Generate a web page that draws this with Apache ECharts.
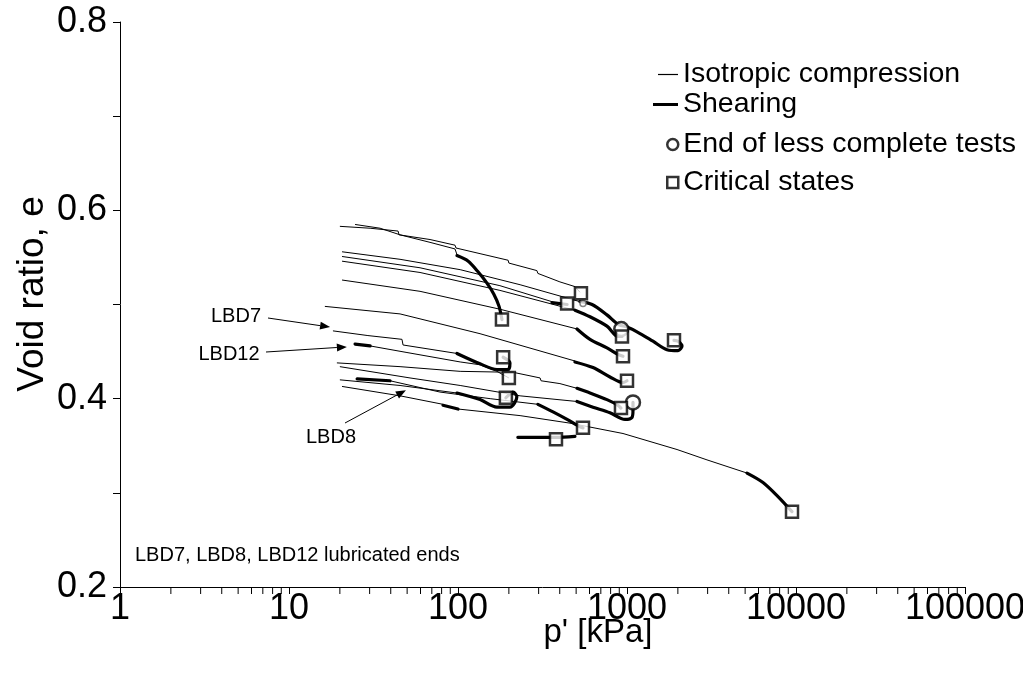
<!DOCTYPE html>
<html><head><meta charset="utf-8">
<script src="https://cdn.jsdelivr.net/npm/echarts@6/dist/echarts.min.js"></script>
<style>html,body{margin:0;padding:0;background:#fff}#c{width:1023px;height:675px}</style>
</head><body><div id="c"></div>
<script>
const FONT = "'Liberation Sans', Arial, Helvetica, sans-serif";

// ---- axis ticks ----
const xMajorTicks = [1, 10, 100, 1000, 10000, 100000];
const xMinorTicks = [2,3,4,5,6,7,8,9, 20,30,40,50,60,70,80,90, 200,300,400,500,600,700,800,900,
  2000,3000,4000,5000,6000,7000,8000,9000, 20000,30000,40000,50000,60000,70000,80000,90000];
const yTickLabels = ['0.2', '0.4', '0.6', '0.8'];

// ---- isotropic compression paths [p' (kPa), e] ----
const compA = [[20.0,0.583],[30.2,0.581],[44.2,0.578],[44.8,0.574],[68.3,0.569],[96.0,0.563],[97.3,0.560],[135,0.554],[198,0.547],[200,0.544],[293,0.536],[297,0.533],[401,0.524],[492,0.519],[527,0.513]];
const compA2 = [[24.6,0.585],[34.6,0.581],[45.4,0.574],[68.3,0.566],[96.0,0.559],[98.6,0.553]];
const compB = [[20.6,0.556],[45.4,0.548],[103,0.537],[233,0.521],[527,0.503]];
const compC = [[20.6,0.551],[59.6,0.539],[177,0.520],[360,0.503]];
const compD = [[20.6,0.546],[59.6,0.534],[177,0.515],[492,0.494]];
const compE = [[20.6,0.526],[59.6,0.514],[177,0.495],[506,0.474]];
const compF = [[16.3,0.498],[45.4,0.490],[135,0.469],[492,0.440]];
const compLBD7 = [[18.2,0.472],[29.3,0.467],[46.6,0.463],[47.3,0.457],[98.6,0.448]];
const compLBD12 = [[30.2,0.456],[49.9,0.449],[103,0.439],[135,0.436],[170,0.429],[200,0.422]];
const compJ = [[19.2,0.438],[45.4,0.434],[103,0.429],[212,0.428],[306,0.422],[310,0.419],[401,0.416],[506,0.411]];
const compK = [[20.0,0.434],[52.0,0.422],[103,0.414],[233,0.403],[506,0.397]];
const compL = [[20.0,0.420],[45.4,0.414],[98.6,0.406]];
const compLBD8 = [[39.6,0.419],[78.3,0.407],[155,0.400],[297,0.394]];
const compM1 = [[20.6,0.413],[45.4,0.403],[81.5,0.394]];
const compM2 = [[100,0.389],[233,0.382],[460,0.374],[947,0.363],[1977,0.346],[2974,0.335],[5130,0.321]];

// ---- shearing paths [p' (kPa), e] ----
const shearA2 = [[98.6,0.552],[115,0.546],[131,0.535],[148,0.523],[163,0.511],[175,0.498],[182,0.484]];
const shearB = [[527,0.503],[621,0.500],[761,0.489],[885,0.479],[1000,0.476],[1146,0.471],[1425,0.461],[1725,0.452],[2004,0.451],[2116,0.456],[2004,0.461],[1897,0.462]];
const shearC = [[360,0.502],[442,0.500]];
const shearD = [[492,0.494],[604,0.487],[761,0.477],[885,0.466],[934,0.466]];
const shearE = [[506,0.474],[604,0.463],[761,0.454],[885,0.447],[947,0.445]];
const shearF = [[492,0.439],[629,0.433],[793,0.423],[947,0.417],[1000,0.419]];
const shearLBD7 = [[98.6,0.448],[135,0.437],[170,0.431],[198,0.431],[203,0.438],[185,0.444]];
const startLBD12 = [[24.6,0.458],[30.2,0.456]];
const shearJ = [[506,0.411],[604,0.406],[761,0.399],[885,0.393],[921,0.390]];
const shearK = [[506,0.397],[629,0.391],[793,0.385],[973,0.378],[1070,0.380],[1085,0.388],[1085,0.396]];
const shearL = [[98.6,0.406],[135,0.399],[170,0.391],[203,0.391],[223,0.402],[212,0.407],[192,0.401]];
const startLBD8 = [[25.3,0.421],[39.6,0.419]];
const shearLBD8 = [[297,0.394],[365,0.386],[442,0.378],[527,0.370],[549,0.369]];
const shearM1 = [[81.5,0.393],[100,0.389]];
const shearM2 = [[5130,0.321],[6377,0.311],[7826,0.296],[9470,0.280]];
const shearU = [[226,0.359],[380,0.359],[492,0.360]];

// ---- markers ----
const criticalStates = [[534,0.512],[442,0.501],[182,0.484],[934,0.466],[947,0.445],[1000,0.419],[921,0.390],[549,0.369],[380,0.357],[1897,0.462],[185,0.444],[200,0.422],[192,0.401],[9470,0.280]];
const endLessComplete = [[925,0.474],[1085,0.396]];
const endLessCompleteSmall = [[549,0.501]];

const thinCurves = [compA, compA2, compB, compC, compD, compE, compF, compLBD7, compLBD12, compJ, compK, compL, compLBD8, compM1, compM2];
const thickCurves = [shearA2, shearB, shearC, shearD, shearE, shearF, shearLBD7, startLBD12, shearJ, shearK, shearL, startLBD8, shearLBD8, shearM1, shearM2, shearU];

const series = [];
thinCurves.forEach(d => series.push({
  type: 'line', name: 'Isotropic compression', data: d, symbol: 'none', smooth: false,
  lineStyle: { color: '#000', width: 1 }, itemStyle: { color: '#000' }, z: 2, silent: true
}));
thickCurves.forEach(d => series.push({
  type: 'line', name: 'Shearing', data: d, symbol: 'none', smooth: 0.3,
  lineStyle: { color: '#000', width: 3.2, cap: 'round', join: 'round' }, itemStyle: { color: '#000' }, z: 3, silent: true
}));
series.push({
  type: 'scatter', name: 'End of less complete tests', data: endLessComplete, symbol: 'circle', symbolSize: 14,
  itemStyle: { color: '#fff', borderColor: '#000', borderWidth: 2.5 }, z: 4, silent: true
});
series.push({
  type: 'scatter', name: 'End of less complete tests', data: endLessCompleteSmall, symbol: 'circle', symbolSize: 6,
  itemStyle: { color: '#fff', borderColor: '#666', borderWidth: 1.5 }, z: 4, silent: true
});
series.push({
  type: 'scatter', name: 'Critical states', data: criticalStates, symbol: 'rect', symbolSize: 12,
  itemStyle: { color: '#fff', borderColor: '#000', borderWidth: 2.5 }, z: 5, silent: true
});
series.push({
  type: 'custom', name: 'minorTicks', data: xMinorTicks.map(v => [v, 0.2]), clip: false, silent: true, z: 1,
  renderItem: (params, api) => {
    const pt = api.coord([api.value(0), api.value(1)]);
    return { type: 'line', shape: { x1: pt[0], y1: pt[1], x2: pt[0], y2: pt[1] + 7 }, style: { stroke: '#000', lineWidth: 1 } };
  }
});

const legendText = { fontSize: 28.5, color: '#000', fontFamily: FONT };
const chart = echarts.init(document.getElementById('c'), null, { renderer: 'canvas' });
chart.setOption({
  animation: false,
  backgroundColor: '#fff',
  grid: { left: 120, right: 58, top: 22, bottom: 88, containLabel: false, outerBoundsMode: 'none' },
  xAxis: {
    type: 'log', logBase: 10, min: 1, max: 100000,
    axisLine: { show: true, lineStyle: { color: '#000', width: 1 } },
    axisTick: { show: true, inside: false, length: 7, lineStyle: { color: '#000' } },
    minorTick: { show: false },
    splitLine: { show: false },
    axisLabel: { color: '#000', fontSize: 36, fontFamily: FONT, margin: 4, formatter: v => String(Math.round(v)) }
  },
  yAxis: {
    type: 'value', min: 0.2, max: 0.8, interval: 0.1,
    axisLine: { show: true, lineStyle: { color: '#000', width: 1 } },
    axisTick: { show: true, inside: false, length: 7, lineStyle: { color: '#000' } },
    splitLine: { show: false },
    axisLabel: { color: '#000', fontSize: 36, fontFamily: FONT, margin: 13,
      formatter: v => { const s = v.toFixed(1); return yTickLabels.indexOf(s) >= 0 ? s : ''; } }
  },
  legend: [
    { data: [{ name: 'Isotropic compression', icon: 'rect' }], left: 658, top: 60, padding: 0, itemWidth: 20, itemHeight: 1.2, selectedMode: false, textStyle: legendText },
    { data: [{ name: 'Shearing', icon: 'rect' }], left: 653, top: 90, padding: 0, itemWidth: 25, itemHeight: 3, selectedMode: false, textStyle: legendText },
    { data: [{ name: 'End of less complete tests', icon: 'circle' }], left: 666, top: 130, padding: 0, itemWidth: 11, itemHeight: 11, selectedMode: false, textStyle: legendText,
      itemStyle: { color: '#fff', borderColor: '#000', borderWidth: 2.5 } },
    { data: [{ name: 'Critical states', icon: 'rect' }], left: 666, top: 168, padding: 0, itemWidth: 11, itemHeight: 11, selectedMode: false, textStyle: legendText,
      itemStyle: { color: '#fff', borderColor: '#000', borderWidth: 2.5 } }
  ],
  series: series
});

// annotations
function arrowGraphic(from, to) {
  const dx = to[0] - from[0], dy = to[1] - from[1];
  const L = Math.sqrt(dx * dx + dy * dy), ux = dx / L, uy = dy / L;
  const hl = 10, hw = 4;
  const bx = to[0] - ux * hl, by = to[1] - uy * hl;
  return [
    { type: 'line', shape: { x1: from[0], y1: from[1], x2: bx, y2: by }, style: { stroke: '#000', lineWidth: 1 }, silent: true },
    { type: 'polygon', shape: { points: [[to[0], to[1]], [bx - uy * hw, by + ux * hw], [bx + uy * hw, by - ux * hw]] }, style: { fill: '#000' }, silent: true }
  ];
}
const tipLBD7 = chart.convertToPixel({ gridIndex: 0 }, [17.5, 0.476]);
const tipLBD12 = chart.convertToPixel({ gridIndex: 0 }, [22.0, 0.455]);
const tipLBD8 = chart.convertToPixel({ gridIndex: 0 }, [49.2, 0.409]);
const annFont = '20px ' + FONT;
const centered = { align: 'center', verticalAlign: 'middle', textAlign: 'center', textVerticalAlign: 'middle', fill: '#000' };
const graphics = [
  { type: 'text', x: 33, y: 294, rotation: Math.PI / 2, silent: true,
    style: Object.assign({ text: 'Void ratio, e', font: '37px ' + FONT }, centered) },
  { type: 'text', x: 598, y: 633, silent: true,
    style: Object.assign({ text: "p' [kPa]", font: '33px ' + FONT }, centered) },
  { type: 'text', x: 236, y: 316, silent: true, style: Object.assign({ text: 'LBD7', font: annFont }, centered) },
  { type: 'text', x: 229, y: 354, silent: true, style: Object.assign({ text: 'LBD12', font: annFont }, centered) },
  { type: 'text', x: 331, y: 437, silent: true, style: Object.assign({ text: 'LBD8', font: annFont }, centered) },
  { type: 'text', x: 135, y: 555, silent: true, style: { text: 'LBD7, LBD8, LBD12 lubricated ends', font: annFont, fill: '#000', align: 'left', verticalAlign: 'middle', textAlign: 'left', textVerticalAlign: 'middle' } }
].concat(arrowGraphic([268, 318], tipLBD7), arrowGraphic([266, 352], tipLBD12), arrowGraphic([345, 423], tipLBD8));
chart.setOption({ graphic: graphics });
</script>
</body></html>
